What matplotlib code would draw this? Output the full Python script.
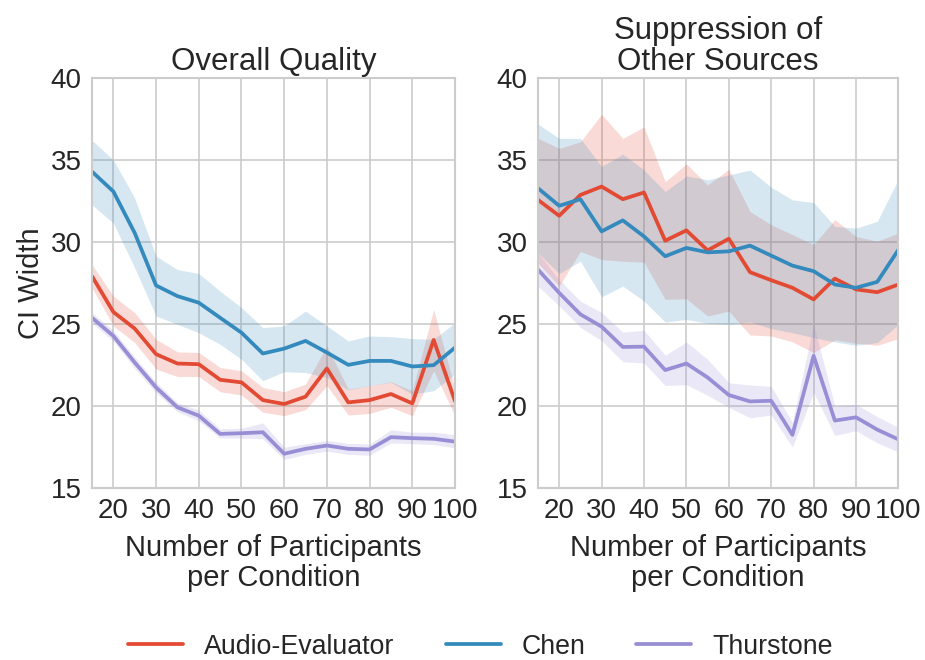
import matplotlib
matplotlib.use("Agg")
import matplotlib.pyplot as plt
import seaborn as sns
import numpy as np

sns.set_style("whitegrid")
plt.rcParams['font.family'] = ['Liberation Sans', 'DejaVu Sans']

participants = [15, 20, 25, 30, 35, 40, 45, 50, 55, 60, 65, 70, 75, 80, 85, 90, 95, 100]
xticks = [20, 30, 40, 50, 60, 70, 80, 90, 100]
yticks = [15, 20, 25, 30, 35, 40]

# Overall Quality
oq_audio = [27.91, 25.73, 24.72, 23.16, 22.59, 22.55, 21.60, 21.44, 20.36, 20.12, 20.57, 22.29, 20.22, 20.36, 20.73, 20.16, 24.03, 20.30]
oq_audio_lo = [27.21, 24.88, 23.87, 22.25, 21.80, 21.80, 20.87, 20.67, 19.62, 19.41, 19.78, 21.24, 19.45, 19.55, 19.92, 19.41, 22.15, 19.41]
oq_audio_hi = [28.62, 26.70, 25.69, 24.07, 23.30, 23.26, 22.35, 22.15, 21.13, 20.87, 21.34, 23.66, 21.03, 21.24, 21.48, 20.93, 25.89, 21.03]

oq_chen = [34.29, 33.08, 30.55, 27.35, 26.70, 26.30, 25.38, 24.47, 23.20, 23.50, 23.97, 23.26, 22.51, 22.75, 22.75, 22.41, 22.49, 23.56]
oq_chen_lo = [32.27, 31.15, 28.42, 25.49, 24.98, 24.47, 23.76, 22.85, 21.54, 22.09, 22.04, 21.74, 20.99, 21.24, 21.44, 20.73, 20.93, 21.94]
oq_chen_hi = [36.20, 35.00, 32.67, 29.13, 28.32, 28.08, 27.00, 26.00, 24.78, 24.88, 25.79, 24.88, 23.97, 24.27, 24.23, 24.11, 24.07, 25.08]

oq_thur = [25.38, 24.27, 22.65, 21.13, 19.92, 19.41, 18.30, 18.34, 18.40, 17.09, 17.39, 17.59, 17.39, 17.35, 18.10, 18.04, 18.00, 17.83]
oq_thur_lo = [25.05, 23.95, 22.30, 20.80, 19.65, 19.10, 18.05, 18.05, 18.00, 16.74, 17.05, 17.25, 17.05, 17.00, 17.75, 17.70, 17.65, 17.45]
oq_thur_hi = [25.70, 24.60, 22.98, 21.45, 20.20, 19.75, 18.60, 18.65, 18.97, 17.49, 17.70, 17.90, 17.72, 17.68, 18.55, 18.40, 18.40, 18.25]

# Suppression of Other Sources
so_audio = [32.57, 31.60, 32.87, 33.38, 32.61, 33.02, 30.08, 30.71, 29.49, 30.20, 28.16, 27.67, 27.21, 26.50, 27.77, 27.11, 26.94, 27.41]
so_audio_lo = [28.72, 27.31, 29.43, 28.93, 28.83, 28.77, 26.50, 26.54, 25.49, 25.79, 24.33, 24.27, 23.91, 23.26, 24.03, 23.83, 23.70, 24.11]
so_audio_hi = [36.32, 35.71, 36.11, 37.79, 36.32, 37.02, 33.68, 34.76, 33.48, 34.43, 31.86, 31.05, 30.45, 29.84, 31.36, 30.34, 30.04, 30.55]

so_chen = [33.28, 32.21, 32.61, 30.65, 31.32, 30.34, 29.13, 29.64, 29.37, 29.43, 29.78, 29.17, 28.56, 28.22, 27.41, 27.21, 27.57, 29.53]
so_chen_lo = [29.33, 28.08, 28.83, 26.66, 27.31, 26.40, 25.12, 25.28, 25.04, 24.98, 25.12, 24.72, 24.47, 24.17, 23.91, 23.70, 23.87, 24.98]
so_chen_hi = [37.19, 36.32, 36.32, 34.60, 35.36, 34.39, 33.08, 34.03, 33.79, 34.09, 34.39, 33.34, 32.57, 32.41, 30.95, 30.85, 31.26, 33.83]

so_thur = [28.32, 26.90, 25.59, 24.84, 23.60, 23.62, 22.19, 22.59, 21.74, 20.67, 20.28, 20.32, 18.24, 23.06, 19.11, 19.31, 18.56, 17.96]
so_thur_lo = [27.31, 26.10, 24.80, 23.99, 22.70, 22.62, 21.25, 21.30, 20.65, 19.92, 19.28, 19.45, 17.50, 20.83, 18.20, 18.50, 17.75, 17.20]
so_thur_hi = [29.33, 27.70, 26.40, 25.70, 24.50, 24.62, 23.10, 23.90, 22.85, 21.42, 21.28, 21.20, 19.00, 24.98, 20.00, 20.10, 19.35, 18.70]

names = ["Audio-Evaluator", "Chen", "Thurstone"]
colors = ["#E24A33", "#348ABD", "#988ED5"]

fig = plt.figure(figsize=(9.25, 6.6), dpi=100)
ax1 = fig.add_axes([0.0995, 0.2606, 0.3924, 0.6212])
ax2 = fig.add_axes([0.5816, 0.2606, 0.3897, 0.6212])

panels = [
    (ax1, "Overall Quality",
     [(oq_audio, oq_audio_lo, oq_audio_hi), (oq_chen, oq_chen_lo, oq_chen_hi), (oq_thur, oq_thur_lo, oq_thur_hi)]),
    (ax2, "Suppression of\nOther Sources",
     [(so_audio, so_audio_lo, so_audio_hi), (so_chen, so_chen_lo, so_chen_hi), (so_thur, so_thur_lo, so_thur_hi)]),
]

handles = []
for ax, title, series in panels:
    for (m, lo, hi), name, c in zip(series, names, colors):
        ax.fill_between(participants, lo, hi, color=c, alpha=0.2, linewidth=0)
        ln, = ax.plot(participants, m, color=c, lw=2.7, label=name)
        if ax is ax1:
            handles.append(ln)
    ax.set_xlim(15, 100)
    ax.set_ylim(15, 40)
    ax.set_xticks(xticks)
    ax.set_yticks(yticks)
    ax.tick_params(axis='both', labelsize=20, colors='#262626', pad=4)
    ax.set_title(title, fontsize=22.5, color='#262626', pad=6, linespacing=1.05)
    ax.set_xlabel("Number of Participants\nper Condition", fontsize=21, color='#262626',
                  linespacing=1.1, labelpad=7)
    ax.grid(True, color='#cccccc', lw=1.2)
    for s in ax.spines.values():
        s.set_color('#cccccc')
        s.set_linewidth(1.5)

ax1.set_ylabel("CI Width", fontsize=21, color='#262626')

fig.legend(handles, names, loc='center', bbox_to_anchor=(0.5195, 0.02), ncol=3,
           frameon=False, fontsize=19.3, handlelength=2.05, columnspacing=1.9, handletextpad=0.78)

fig.savefig("out.png", dpi=100)
